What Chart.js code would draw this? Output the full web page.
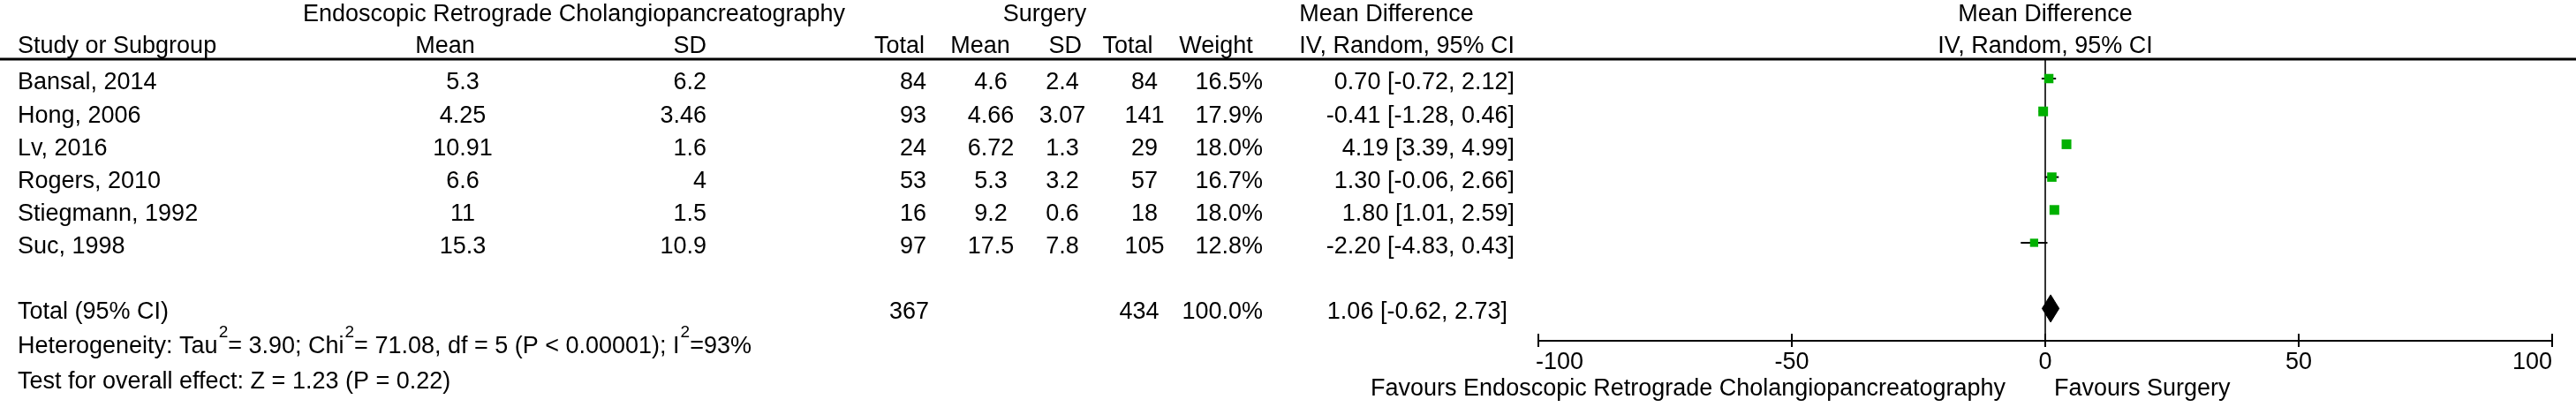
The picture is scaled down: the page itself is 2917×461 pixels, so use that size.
<!DOCTYPE html>
<html>
<head>
<meta charset="utf-8">
<script src="https://cdn.jsdelivr.net/npm/chart.js@4.4.1/dist/chart.umd.min.js"></script>
<style>
  html, body { margin: 0; padding: 0; background: #ffffff; }
  #wrap { width: 2917px; height: 461px; position: relative; }
  canvas { display: block; }
</style>
</head>
<body>
<div id="wrap"><canvas id="c" width="2917" height="461"></canvas></div>
<script>
// ---------------- DATA ----------------
const studies    = ['Bansal, 2014', 'Hong, 2006', 'Lv, 2016', 'Rogers, 2010', 'Stiegmann, 1992', 'Suc, 1998'];
const ercpMean   = [5.3, 4.25, 10.91, 6.6, 11, 15.3];
const ercpSD     = [6.2, 3.46, 1.6, 4, 1.5, 10.9];
const ercpTotal  = [84, 93, 24, 53, 16, 97];
const surgMean   = [4.6, 4.66, 6.72, 5.3, 9.2, 17.5];
const surgSD     = [2.4, 3.07, 1.3, 3.2, 0.6, 7.8];
const surgTotal  = [84, 141, 29, 57, 18, 105];
const weights    = [16.5, 17.9, 18.0, 16.7, 18.0, 12.8];
const meanDiff   = [0.70, -0.41, 4.19, 1.30, 1.80, -2.20];
const ciLow      = [-0.72, -1.28, 3.39, -0.06, 1.01, -4.83];
const ciHigh     = [2.12, 0.46, 4.99, 2.66, 2.59, 0.43];

const totalLabel   = 'Total (95% CI)';
const totalErcpN   = 367;
const totalSurgN   = 434;
const totalWeight  = 100.0;
const totalMD      = 1.06;
const totalLow     = -0.62;
const totalHigh    = 2.73;

const xTicks = [-100, -50, 0, 50, 100];

const groupHeaders = ['Endoscopic Retrograde Cholangiopancreatography', 'Surgery', 'Mean Difference', 'Mean Difference'];
const colHeaders   = ['Study or Subgroup', 'Mean', 'SD', 'Total', 'Mean', 'SD', 'Total', 'Weight', 'IV, Random, 95% CI', 'IV, Random, 95% CI'];
const favoursLeft  = 'Favours Endoscopic Retrograde Cholangiopancreatography';
const favoursRight = 'Favours Surgery';
const heterogeneityParts = [['Heterogeneity: Tau', 0], ['2', 1], ['= 3.90; Chi', 0], ['2', 1], ['= 71.08, df = 5 (P < 0.00001); I', 0], ['2', 1], ['=93%', 0]];
const overallEffect = 'Test for overall effect: Z = 1.23 (P = 0.22)';

// ---------------- LAYOUT / STYLE ----------------
const W = 2917, H = 461;
const PLOT_LEFT = 1742, PLOT_RIGHT = 2890, PLOT_TOP = 67, PLOT_BOTTOM = 386;
const ROW0 = 89, ROW_STEP = 37.2;
const TOTAL_ROW = 7;
const FONT = '"Liberation Sans", Arial, Helvetica, sans-serif';
const FS = 27;
const GREEN = '#00b000';

const yMin = -(ROW0 - PLOT_TOP) / ROW_STEP;
const yMax = yMin + (PLOT_BOTTOM - PLOT_TOP) / ROW_STEP;

// CI line datasets
const ciDatasets = studies.map((s, i) => ({
  type: 'line',
  data: [{ x: ciLow[i], y: i }, { x: ciHigh[i], y: i }],
  borderColor: '#000000',
  borderWidth: 2,
  pointRadius: 0,
  fill: false,
  order: 3
}));

const squareDataset = {
  type: 'scatter',
  data: meanDiff.map((m, i) => ({ x: m, y: i })),
  pointStyle: 'rect',
  pointRadius: weights.map(w => (11 * Math.sqrt(w / 18)) / Math.SQRT1_2 / 2),
  pointBackgroundColor: GREEN,
  pointBorderWidth: 0,
  pointBorderColor: GREEN,
  order: 2
};

const DIAMOND_HALF = 15.5 / ROW_STEP;
const diamondDataset = {
  type: 'line',
  data: [
    { x: totalLow, y: TOTAL_ROW },
    { x: totalMD, y: TOTAL_ROW - DIAMOND_HALF },
    { x: totalHigh, y: TOTAL_ROW },
    { x: totalMD, y: TOTAL_ROW + DIAMOND_HALF },
    { x: totalLow, y: TOTAL_ROW }
  ],
  borderColor: '#000000',
  backgroundColor: '#000000',
  borderWidth: 1,
  pointRadius: 0,
  fill: 'shape',
  tension: 0,
  order: 1
};

function fmt2(v) { return v.toFixed(2); }
function ciText(m, lo, hi) { return fmt2(m) + ' [' + fmt2(lo) + ', ' + fmt2(hi) + ']'; }

const forestPlugin = {
  id: 'forest',
  beforeDatasetsDraw(chart) {
    const { ctx, chartArea, scales: { x } } = chart;
    const x0 = x.getPixelForValue(0);
    ctx.save();
    ctx.strokeStyle = '#333333';
    ctx.lineWidth = 2;
    ctx.beginPath();
    ctx.moveTo(x0, chartArea.top);
    ctx.lineTo(x0, chartArea.bottom);
    ctx.stroke();
    ctx.restore();
  },
  afterDraw(chart) {
    const { ctx, chartArea, scales: { x, y } } = chart;
    ctx.save();
    ctx.fillStyle = '#000000';
    ctx.textBaseline = 'middle';
    const f = (sz) => sz + 'px ' + FONT;
    const txt = (s, px, py, align) => { ctx.textAlign = align; ctx.fillText(s, px, py); };

    // header line
    ctx.strokeStyle = '#000000';
    ctx.lineWidth = 3;
    ctx.beginPath();
    ctx.moveTo(0, PLOT_TOP);
    ctx.lineTo(W, PLOT_TOP);
    ctx.stroke();

    ctx.font = f(FS);
    // group headers
    txt(groupHeaders[0], 650, 17, 'center');
    txt(groupHeaders[1], 1183, 17, 'center');
    txt(groupHeaders[2], 1570, 17, 'center');
    txt(groupHeaders[3], (chartArea.left + chartArea.right) / 2, 17, 'center');
    // column headers
    txt(colHeaders[0], 20, 53, 'left');
    txt(colHeaders[1], 504, 53, 'center');
    txt(colHeaders[2], 800, 53, 'right');
    txt(colHeaders[3], 1047, 53, 'right');
    txt(colHeaders[4], 1110, 53, 'center');
    txt(colHeaders[5], 1225, 53, 'right');
    txt(colHeaders[6], 1277, 53, 'center');
    txt(colHeaders[7], 1377, 53, 'center');
    txt(colHeaders[8], 1715, 53, 'right');
    txt(colHeaders[9], (chartArea.left + chartArea.right) / 2, 53, 'center');

    // study rows
    studies.forEach((s, i) => {
      const py = y.getPixelForValue(i) + 5;
      txt(s, 20, py, 'left');
      txt(String(ercpMean[i]), 524, py, 'center');
      txt(String(ercpSD[i]), 800, py, 'right');
      txt(String(ercpTotal[i]), 1049, py, 'right');
      txt(String(surgMean[i]), 1122, py, 'center');
      txt(String(surgSD[i]), 1203, py, 'center');
      txt(String(surgTotal[i]), 1296, py, 'center');
      txt(weights[i].toFixed(1) + '%', 1430, py, 'right');
      txt(ciText(meanDiff[i], ciLow[i], ciHigh[i]), 1715, py, 'right');
    });

    // total row
    const ty = y.getPixelForValue(TOTAL_ROW) + 4;
    txt(totalLabel, 20, ty, 'left');
    txt(String(totalErcpN), 1052, ty, 'right');
    txt(String(totalSurgN), 1290, ty, 'center');
    txt(totalWeight.toFixed(1) + '%', 1430, ty, 'right');
    txt(ciText(totalMD, totalLow, totalHigh), 1707, ty, 'right');

    // heterogeneity with superscripts
    let hx = 20;
    const hy = 393;
    ctx.textAlign = 'left';
    heterogeneityParts.forEach(([s, sup]) => {
      if (sup) {
        ctx.font = f(19);
        ctx.fillText(s, hx + 1, hy - 16);
        hx += ctx.measureText(s).width + 1;
      } else {
        ctx.font = f(FS);
        ctx.fillText(s, hx, hy);
        hx += ctx.measureText(s).width;
      }
    });
    ctx.font = f(FS);
    txt(overallEffect, 20, 433, 'left');

    // x axis
    ctx.strokeStyle = '#000000';
    ctx.lineWidth = 2;
    ctx.beginPath();
    ctx.moveTo(chartArea.left, chartArea.bottom);
    ctx.lineTo(chartArea.right, chartArea.bottom);
    ctx.stroke();
    xTicks.forEach((t, k) => {
      const px = x.getPixelForValue(t);
      ctx.beginPath();
      ctx.moveTo(px, chartArea.bottom - 8);
      ctx.lineTo(px, chartArea.bottom + 7);
      ctx.stroke();
      const align = k === 0 ? 'left' : (k === xTicks.length - 1 ? 'right' : 'center');
      txt(String(t), k === 0 ? px - 3 : px, 411, align);
    });
    const x0 = x.getPixelForValue(0);
    txt(favoursLeft, x0 - 45, 441, 'right');
    txt(favoursRight, x0 + 10, 441, 'left');
    ctx.restore();
  }
};

new Chart(document.getElementById('c').getContext('2d'), {
  type: 'scatter',
  data: { datasets: [...ciDatasets, squareDataset, diamondDataset] },
  options: {
    responsive: false,
    animation: false,
    devicePixelRatio: 1,
    layout: { padding: { left: PLOT_LEFT, right: W - PLOT_RIGHT, top: PLOT_TOP, bottom: H - PLOT_BOTTOM } },
    scales: {
      x: { type: 'linear', min: xTicks[0], max: xTicks[xTicks.length - 1], display: false },
      y: { type: 'linear', min: yMin, max: yMax, reverse: true, display: false }
    },
    plugins: { legend: { display: false }, tooltip: { enabled: false } }
  },
  plugins: [forestPlugin]
});
</script>
</body>
</html>
